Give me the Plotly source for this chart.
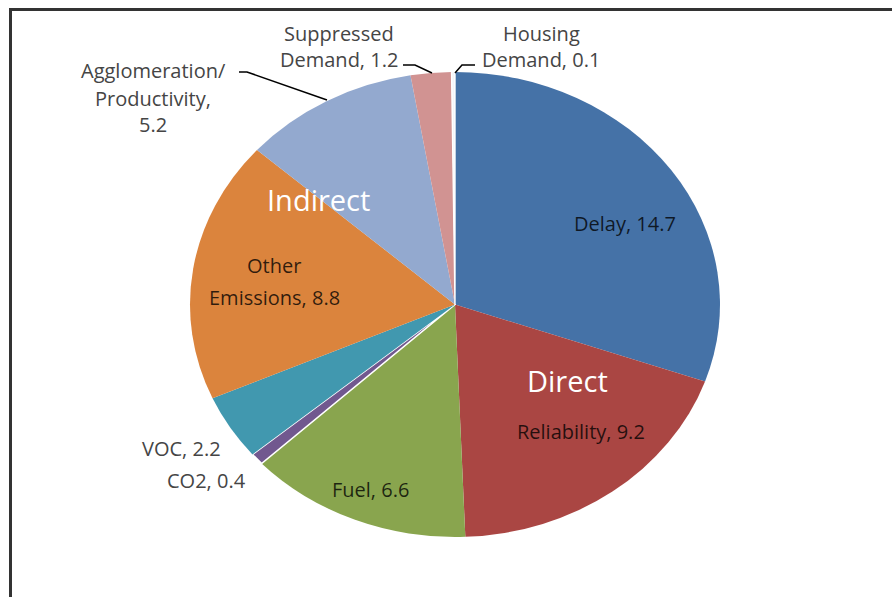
import plotly.graph_objects as go

# ---- data ----
labels = ["Delay", "Reliability", "Fuel", "CO2", "VOC", "Other Emissions",
          "Agglomeration/ Productivity", "Suppressed Demand", "Housing Demand"]
values = [14.7, 9.2, 6.6, 0.4, 2.2, 8.8, 5.2, 1.2, 0.1]
# how each data label is broken into lines
label_lines = [["Delay, 14.7"], ["Reliability, 9.2"], ["Fuel, 6.6"], ["CO2, 0.4"],
               ["VOC, 2.2"], ["Other", "Emissions, 8.8"],
               ["Agglomeration/", "Productivity,", "5.2"],
               ["Suppressed", "Demand, 1.2"], ["Housing", "Demand, 0.1"]]
group_labels = ["Indirect", "Direct"]

# ---- style ----
colors = ["#4572A7", "#AA4643", "#89A54E", "#71588F", "#4198AF", "#DB843D",
          "#93A9CF", "#D19392", "#F3F5FA"]
line_w = [0, 0, 0, 1.5, 0, 0, 0, 0, 1.2]
W, H = 892, 597
CX, CY, RY, RX = 455, 304.5, 232.5, 265

# label placement (pixels): x, anchor, line centres y, colour
lab_pos = [
    (625, "center", [224], "inside"),
    (581, "center", [431], "inside"),
    (370, "center", [489], "inside"),
    (248, "right", [480], "outside"),
    (223, "right", [448], "outside"),
    (274, "center", [265, 297], "inside"),
    (153, "center", [70, 98, 125], "outside"),
    (339, "center", [33, 60], "outside"),
    (541, "center", [33, 60], "outside"),
]
group_pos = [(318, 200), (567, 380)]

FONT = "'Open Sans', sans-serif"

fig = go.Figure(go.Pie(
    labels=labels, values=values, sort=False, direction="clockwise", rotation=0,
    marker=dict(colors=colors, line=dict(color="white", width=line_w)),
    textinfo="none", hoverinfo="label+value", showlegend=False,
    domain=dict(x=[(CX - RY) / W, (CX + RY) / W],
                y=[(H - CY - RY) / H, (H - CY + RY) / H]),
))

ann = []
for lines, (x, anchor, ys, where) in zip(label_lines, lab_pos):
    col = "rgba(0,0,0,0.78)" if where == "inside" else "#454545"
    for t, y in zip(lines, ys):
        ann.append(dict(x=x / W, y=1 - y / H, xref="paper", yref="paper",
                        text=t, showarrow=False, xanchor=anchor, yanchor="middle",
                        font=dict(family=FONT, size=20, color=col)))
for t, (x, y) in zip(group_labels, group_pos):
    ann.append(dict(x=x / W, y=1 - y / H, xref="paper", yref="paper", text=t,
                    showarrow=False, xanchor="center", yanchor="middle",
                    font=dict(family=FONT, size=29, color="white")))

# leader lines and frame (pixel coords converted to paper)
def P(x, y):
    return x / W, 1 - y / H

def path(pts):
    s = ""
    for i, (x, y) in enumerate(pts):
        px, py = P(x, y)
        s += ("M" if i == 0 else "L") + f"{px},{py} "
    return s

shapes = [
    dict(type="path", xref="paper", yref="paper",
         path=path([(239, 72), (247, 72), (327, 100)]),
         line=dict(color="black", width=1.5)),
    dict(type="path", xref="paper", yref="paper",
         path=path([(403, 65), (415, 65), (432, 73)]),
         line=dict(color="black", width=1.5)),
    dict(type="path", xref="paper", yref="paper",
         path=path([(455, 73), (462, 65), (475, 65)]),
         line=dict(color="black", width=1.5)),
    dict(type="line", xref="paper", yref="paper",
         x0=10.5 / W, x1=10.5 / W, y0=1 - 8 / H, y1=0,
         line=dict(color="#333333", width=3)),
    dict(type="line", xref="paper", yref="paper",
         x0=9 / W, x1=1, y0=1 - 9.5 / H, y1=1 - 9.5 / H,
         line=dict(color="#333333", width=3)),
]

fig.update_layout(width=W, height=H, margin=dict(l=0, r=0, t=0, b=0),
                  paper_bgcolor="white", plot_bgcolor="white",
                  annotations=ann, shapes=shapes, showlegend=False)

sx = RX / RY
post = ("document.body.style.margin='0';document.body.style.overflow='hidden';"
        "var gd=document.getElementById('{plot_id}');"
        "gd.querySelectorAll('.pielayer').forEach(function(g){"
        f"g.setAttribute('transform','translate({CX},0) scale({sx:.4f},1) translate({-CX},0)');"
        "});")
fig.write_html("out.html", post_script=post, config={"displayModeBar": False})
